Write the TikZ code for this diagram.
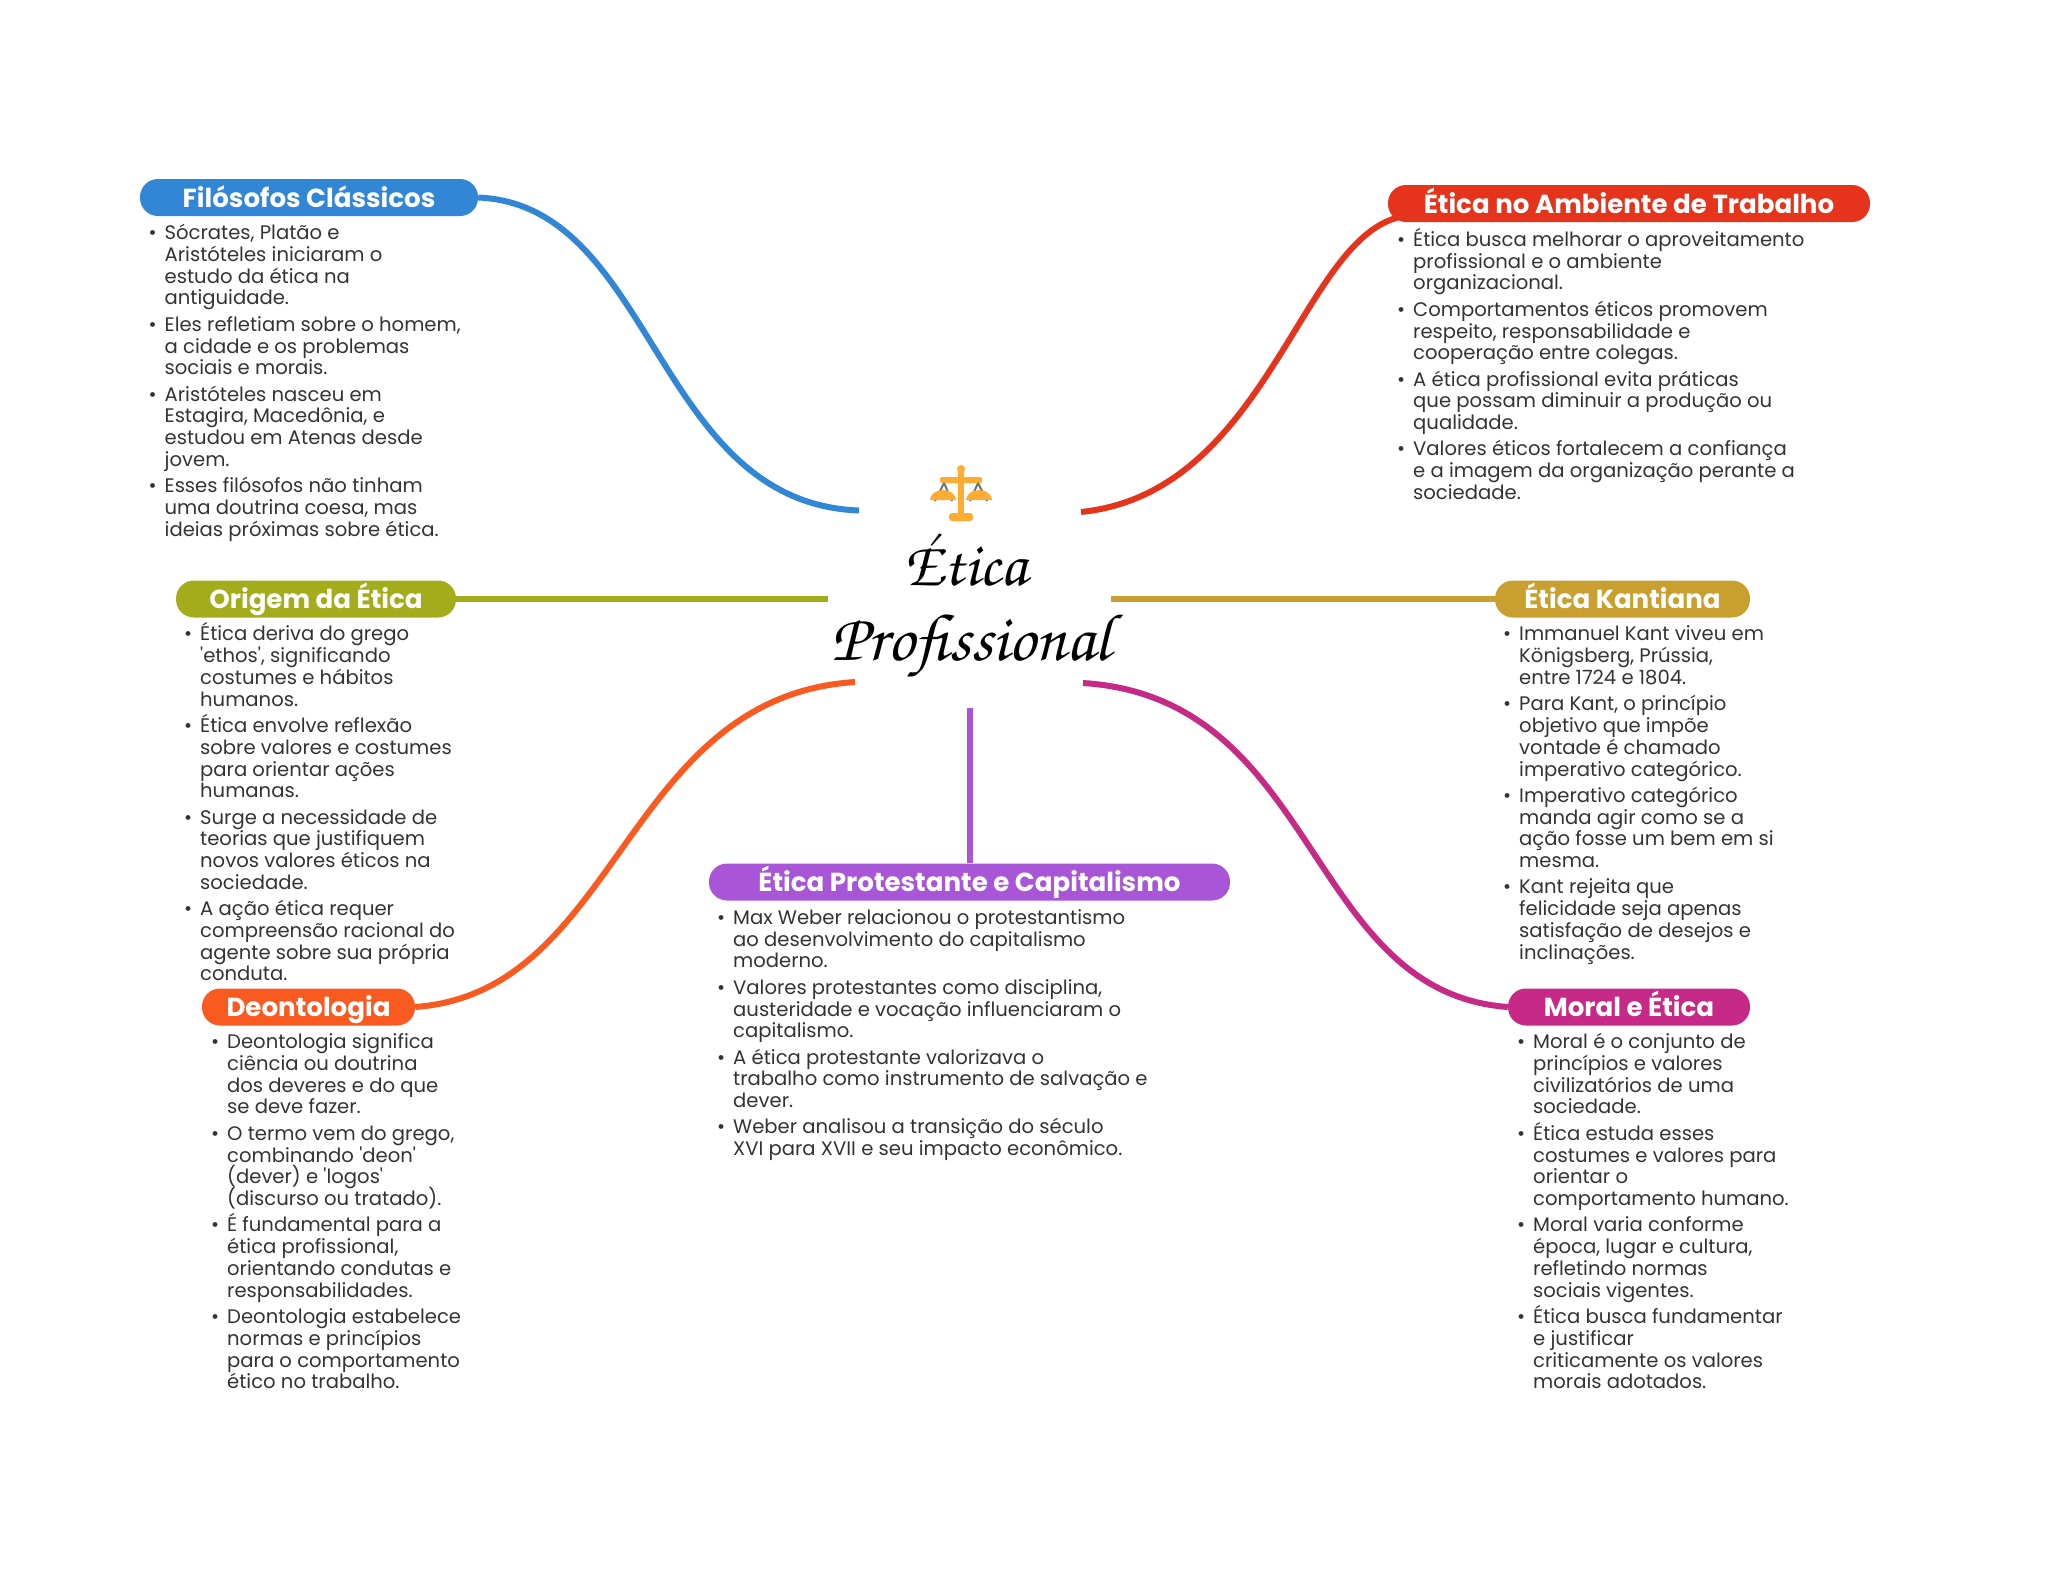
\documentclass[tikz,border=0pt]{standalone}
\usepackage{fontspec}
\setmainfont{Poppins}
\usepackage{tikz}
\usetikzlibrary{positioning,calc}
\definecolor{azul}{HTML}{3186D6}
\definecolor{vermelho}{HTML}{E5341B}
\definecolor{oliva}{HTML}{A3AD1C}
\definecolor{ouro}{HTML}{C9A02F}
\definecolor{laranja}{HTML}{F95A20}
\definecolor{magenta}{HTML}{C62A86}
\definecolor{roxo}{HTML}{A855D8}
\definecolor{balanca}{HTML}{FFAC33}
\definecolor{corda}{HTML}{66757F}
\definecolor{corpo}{HTML}{333333}
\newcommand{\ponto}{\vrule height 20pt depth 0pt width 0pt\relax\makebox[0pt][r]{•\hspace{8pt}}}
\newcommand{\novo}{\\[4.6pt]\ponto}
\newcommand{\aspa}{\textquotesingle}
\newcommand{\fontecorpo}{\fontsize{19.6}{21.75}\selectfont\lineskiplimit=-50pt\relax}
\tikzset{
  pill/.style={fill=#1,text=white,rounded corners=18pt,inner sep=0pt,font=\fontsize{26.1}{30}\selectfont\bfseries,minimum height=37pt,text height=24.5pt,text depth=5.5pt},
  corpo/.style={anchor=north west,inner sep=0pt,align=left,text=corpo,font=\fontecorpo},
  ramo/.style={line width=6pt,draw=#1},
  titulo/.style={anchor=base,inner sep=0pt,font=\fontsize{#1}{72}\usefont{T1}{pzc}{mb}{it}}
}
\begin{document}
\begin{tikzpicture}[x=1pt,y=-1pt]
  \useasboundingbox (0,0) rectangle (2048,1569);
  % titulo
  \node[titulo=63] (etica) at (966,585) {\'Etica};
  \node[titulo=67] (prof) at (971,660) {Profissional};
  % balanca
  \fill[balanca] (958,470) rectangle (964,515);
  \fill[balanca] (961,469) circle (4);
  \fill[balanca,rounded corners=2pt] (940,477) -- (982,477) -- (982,483) -- (940,483) -- cycle;
  \fill[balanca,rounded corners=3pt] (949,513) rectangle (973,521);
  \draw[corda,line width=2pt] (944,483) -- (935,501) (944,483) -- (952,501) (978,483) -- (970,501) (978,483) -- (987,501);
  \fill[balanca] (930,500) -- (956,500) arc (0:-180:13 and 10) -- cycle;
  \fill[balanca] (966,500) -- (992,500) arc (0:-180:13 and 10) -- cycle;

  % topicos
  \node[pill=azul,minimum width=338pt] (filosofos) at (309,197.5) {Filósofos Clássicos};
  \node[pill=vermelho,minimum width=482pt] (trabalho) at (1629,203.5) {Ética no Ambiente de Trabalho};
  \node[pill=oliva,minimum width=280pt] (origem) at (316,599) {Origem da Ética};
  \node[pill=ouro,minimum width=255pt] (kant) at (1622.5,599) {Ética Kantiana};
  \node[pill=laranja,minimum width=213pt] (deonto) at (308.5,1007) {Deontologia};
  \node[pill=magenta,minimum width=242pt] (moral) at (1629,1007) {Moral e Ética};
  \node[pill=roxo,minimum width=521pt] (protest) at (969.5,882) {Ética Protestante e Capitalismo};

  % pontas livres
  \coordinate (cA) at (859,510.5);
  \coordinate (cB) at (1081,512);
  \coordinate (cC) at (828,599);
  \coordinate (cD) at (1111,599);
  \coordinate (cE) at (855,682);
  \coordinate (cF) at (1083,683);
  \coordinate (cG) at (969.5,708);

  \draw[ramo=azul] (filosofos.east) .. controls (655,205) and (654,503) .. (cA);
  \draw[ramo=vermelho] (trabalho.west) ++(10,14) .. controls (1300,243) and (1266,493) .. (cB);
  \draw[ramo=oliva] (origem.east) -- (cC);
  \draw[ramo=ouro] (kant.west) -- (cD);
  \draw[ramo=laranja] (deonto.east) .. controls (620,992) and (623,697) .. (cE);
  \draw[ramo=magenta] (moral.west) .. controls (1305,992) and (1320,698) .. (cF);
  \draw[ramo=roxo] (protest.north) -- (cG);

  % textos
  \node[corpo] (tA) at (164.5,219.5) {\ponto Sócrates, Platão e\\Aristóteles iniciaram o\\estudo da ética na\\antiguidade.\novo Eles refletiam sobre o homem,\\a cidade e os problemas\\sociais e morais.\novo Aristóteles nasceu em\\Estagira, Macedônia, e\\estudou em Atenas desde\\jovem.\novo Esses filósofos não tinham\\uma doutrina coesa, mas\\ideias próximas sobre ética.};
  \node[corpo] (tB) at (1413,226.2) {\ponto Ética busca melhorar o aproveitamento\\profissional e o ambiente\\organizacional.\novo Comportamentos éticos promovem\\respeito, responsabilidade e\\cooperação entre colegas.\novo A ética profissional evita práticas\\que possam diminuir a produção ou\\qualidade.\novo Valores éticos fortalecem a confiança\\e a imagem da organização perante a\\sociedade.};
  \node[corpo] (tC) at (200,620.7) {\ponto Ética deriva do grego\\\aspa ethos\aspa, significando\\costumes e hábitos\\humanos.\novo Ética envolve reflexão\\sobre valores e costumes\\para orientar ações\\humanas.\novo Surge a necessidade de\\teorias que justifiquem\\novos valores éticos na\\sociedade.\novo A ação ética requer\\compreensão racional do\\agente sobre sua própria\\conduta.};
  \node[corpo] (tD) at (1519,620.7) {\ponto Immanuel Kant viveu em\\Königsberg, Prússia,\\entre 1724 e 1804.\novo Para Kant, o princípio\\objetivo que impõe\\vontade é chamado\\imperativo categórico.\novo Imperativo categórico\\manda agir como se a\\ação fosse um bem em si\\mesma.\novo Kant rejeita que\\felicidade seja apenas\\satisfação de desejos e\\inclinações.};
  \node[corpo] (tE) at (227,1028.5) {\ponto Deontologia significa\\ciência ou doutrina\\dos deveres e do que\\se deve fazer.\novo O termo vem do grego,\\combinando \aspa deon\aspa\\(dever) e \aspa logos\aspa\\(discurso ou tratado).\novo É fundamental para a\\ética profissional,\\orientando condutas e\\responsabilidades.\novo Deontologia estabelece\\normas e princípios\\para o comportamento\\ético no trabalho.};
  \node[corpo] (tF) at (1533,1028.5) {\ponto Moral é o conjunto de\\princípios e valores\\civilizatórios de uma\\sociedade.\novo Ética estuda esses\\costumes e valores para\\orientar o\\comportamento humano.\novo Moral varia conforme\\época, lugar e cultura,\\refletindo normas\\sociais vigentes.\novo Ética busca fundamentar\\e justificar\\criticamente os valores\\morais adotados.};
  \node[corpo] (tG) at (733,904.2) {\ponto Max Weber relacionou o protestantismo\\ao desenvolvimento do capitalismo\\moderno.\novo Valores protestantes como disciplina,\\austeridade e vocação influenciaram o\\capitalismo.\novo A ética protestante valorizava o\\trabalho como instrumento de salvação e\\dever.\novo Weber analisou a transição do século\\XVI para XVII e seu impacto econômico.};
\end{tikzpicture}
\end{document}
